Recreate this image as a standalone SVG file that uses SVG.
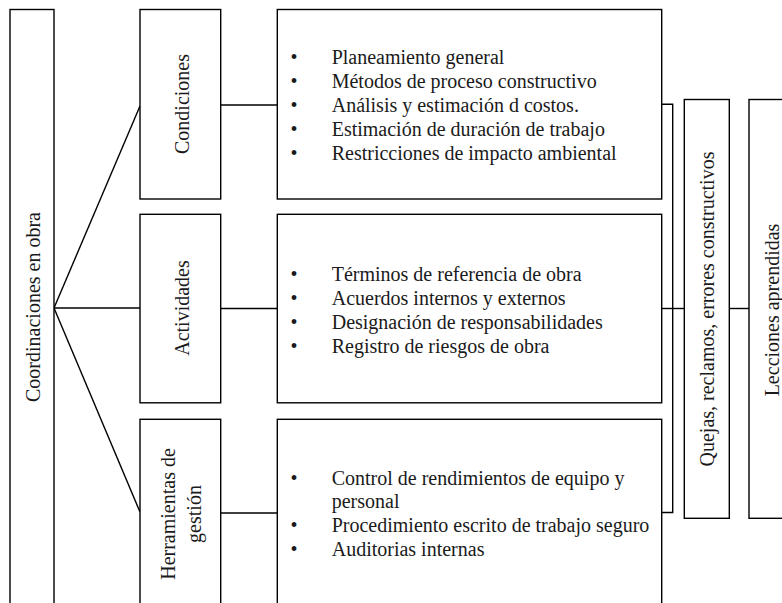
<svg xmlns="http://www.w3.org/2000/svg" width="782" height="603" viewBox="0 0 782 603">
<style>
.box{fill:#fff;stroke:#000;stroke-width:1.4}
.ln{fill:none;stroke:#000;stroke-width:1.4}
text{font-family:"Liberation Serif","Times New Roman",serif;font-size:20px;fill:#1a1a1a}
.c{text-anchor:middle;dominant-baseline:central}
.b{text-anchor:middle}
</style>
<rect width="782" height="603" fill="#fff"/>
<g id="connectors">
<path class="ln" d="M54,308 L140,106"/>
<path class="ln" d="M54,308 H140"/>
<path class="ln" d="M54,308 L140,512"/>
<path class="ln" d="M220.7,105 H277.3"/>
<path class="ln" d="M220.7,308.5 H277.3"/>
<path class="ln" d="M220.7,513 H277.3"/>
<path class="ln" d="M661.7,104.3 H672.7 V512.5 H661.7"/>
<path class="ln" d="M661.7,308.5 H684.3"/>
<path class="ln" d="M729.3,308.5 H749"/>
</g>
<g id="coordinaciones">
<rect class="box" x="10" y="9.5" width="44" height="610"/>
<text class="c" transform="translate(33,307) rotate(-90)">Coordinaciones en obra</text>
</g>
<g id="condiciones">
<rect class="box" x="140" y="9.5" width="80.7" height="189.5"/>
<text class="c" transform="translate(182,104) rotate(-90)">Condiciones</text>
</g>
<g id="actividades">
<rect class="box" x="140" y="214.3" width="80.7" height="188.5"/>
<text class="c" transform="translate(182,308) rotate(-90)">Actividades</text>
</g>
<g id="herramientas">
<rect class="box" x="140" y="419.3" width="80.7" height="200"/>
<text class="c" transform="translate(168,514) rotate(-90)">Herramientas de</text>
<text class="c" transform="translate(194,514) rotate(-90)">gestión</text>
</g>
<g id="lista-condiciones">
<rect class="box" x="277.3" y="9.5" width="384.4" height="189.5"/>
<text class="b" x="294" y="64">•</text><text x="331.7" y="64">Planeamiento general</text>
<text class="b" x="294" y="88">•</text><text x="331.7" y="88">Métodos de proceso constructivo</text>
<text class="b" x="294" y="112">•</text><text x="331.7" y="112">Análisis y estimación d costos.</text>
<text class="b" x="294" y="136">•</text><text x="331.7" y="136">Estimación de duración de trabajo</text>
<text class="b" x="294" y="160">•</text><text x="331.7" y="160">Restricciones de impacto ambiental</text>
</g>
<g id="lista-actividades">
<rect class="box" x="277.3" y="214.3" width="384.4" height="188.5"/>
<text class="b" x="294" y="281">•</text><text x="331.7" y="281">Términos de referencia de obra</text>
<text class="b" x="294" y="305">•</text><text x="331.7" y="305">Acuerdos internos y externos</text>
<text class="b" x="294" y="329">•</text><text x="331.7" y="329">Designación de responsabilidades</text>
<text class="b" x="294" y="353">•</text><text x="331.7" y="353">Registro de riesgos de obra</text>
</g>
<g id="lista-herramientas">
<rect class="box" x="277.3" y="419.3" width="384.4" height="200"/>
<text class="b" x="294" y="485">•</text><text x="331.7" y="485">Control de rendimientos de equipo y</text>
<text x="331.7" y="508">personal</text>
<text class="b" x="294" y="532">•</text><text x="331.7" y="532">Procedimiento escrito de trabajo seguro</text>
<text class="b" x="294" y="556">•</text><text x="331.7" y="556">Auditorias internas</text>
</g>
<g id="quejas">
<rect class="box" x="684.3" y="99.5" width="45" height="418.8"/>
<text class="c" transform="translate(707,309) rotate(-90)">Quejas, reclamos, errores constructivos</text>
</g>
<g id="lecciones">
<rect class="box" x="749" y="99.5" width="60" height="418.8"/>
<text class="c" transform="translate(772,310) rotate(-90)">Lecciones aprendidas</text>
</g>
</svg>
